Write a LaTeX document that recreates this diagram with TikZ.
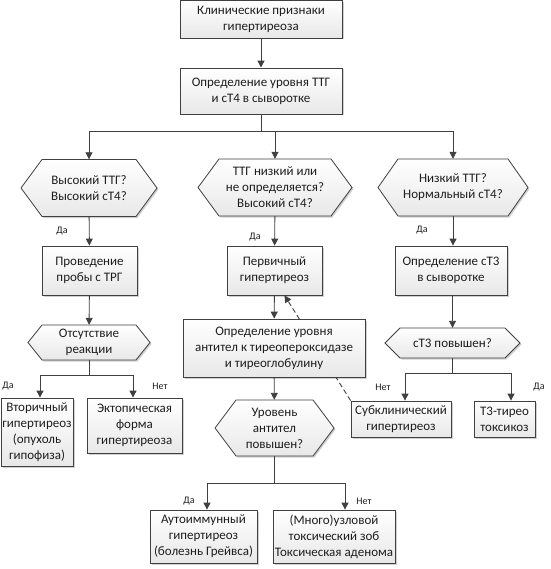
\documentclass[tikz,border=0pt]{standalone}
\usepackage{fontspec}
\setmainfont{Carlito}
\usetikzlibrary{arrows.meta,shadows}
\pgfdeclarelayer{bg}
\pgfdeclarelayer{paper}
\pgfsetlayers{paper,bg,main}
\definecolor{ln}{HTML}{404040}
\definecolor{tx}{HTML}{1E1E1E}
\tikzset{
  shad/.style={drop shadow={shadow xshift=1.5pt, shadow yshift=-1.5pt, fill=black, opacity=0.18}},
  box/.style={draw=ln, line width=0.8pt, top color=white, bottom color=black!9, shad,
    align=center, inner sep=0pt, text=tx, font=\fontsize{13}{16}\selectfont},
  hexfill/.style={draw=ln, line width=0.8pt, top color=white, bottom color=black!9, shad},
  hextxt/.style={inner sep=0pt, align=center, text=tx, font=\fontsize{13}{16}\selectfont},
  lbl/.style={font=\fontsize{10}{12}\selectfont, text=tx, inner sep=0pt},
  con/.style={draw=ln, line width=0.9pt},
  arr/.style={con, -{Triangle[length=7pt,width=7pt]}},
}
\newcommand\hexnode[7]{%
  \path[hexfill] ({#2-#4},{#3}) -- ({#2-#4+#6},{#3-#5}) -- ({#2+#4-#6},{#3-#5}) -- ({#2+#4},{#3})
    -- ({#2+#4-#6},{#3+#5}) -- ({#2-#4+#6},{#3+#5}) -- cycle;
  \node[hextxt, minimum width={2*#4}, minimum height={2*#5}] (#1) at (#2,#3) {#7};}
\begin{document}
\begin{tikzpicture}[x=1pt,y=-1pt]
\begin{pgfonlayer}{paper}
\useasboundingbox[fill=white] (0,0) rectangle (550,569);
\end{pgfonlayer}
% boxes
\node[box, minimum width=162, minimum height=37.5] (b1) at (261,19.25) {Клинические признаки\\гипертиреоза};
\node[box, minimum width=162, minimum height=46] (b2) at (261,91) {Определение уровня ТТГ\\и сТ4 в сыворотке};
\hexnode{hL}{89}{188}{68}{28.5}{21}{Высокий ТТГ?\\Высокий сТ4?}
\hexnode{hM}{275}{187.5}{77}{28.5}{21}{ТТГ низкий или\\не определяется?\\Высокий сТ4?}
\hexnode{hR}{453}{187.5}{75}{28.5}{20}{Низкий ТТГ?\\Нормальный сТ4?}
\node[box, minimum width=95, minimum height=49] (bL2) at (89.5,270.5) {Проведение\\пробы с ТРГ};
\node[box, minimum width=95, minimum height=49] (bM2) at (274.5,270.5) {Первичный\\гипертиреоз};
\node[box, minimum width=112, minimum height=49] (bR2) at (451,270.5) {Определение сТ3\\в сыворотке};
\hexnode{hL3}{89}{342.5}{61}{17.5}{14}{Отсутствие\\реакции}
\node[box, minimum width=182, minimum height=58] (bM3) at (274,348) {Определение уровня\\антител к тиреопероксидазе\\и тиреоглобулину};
\hexnode{hR3}{452.5}{343}{67.5}{15}{15}{сТ3 повышен?}
\node[box, minimum width=72, minimum height=68] (bL4a) at (37,432) {Вторичный\\гипертиреоз\\(опухоль\\гипофиза)};
\node[box, minimum width=95, minimum height=55] (bL4b) at (134.5,425.5) {Эктопическая\\форма\\гипертиреоза};
\node[box, minimum width=100, minimum height=36] (bSub) at (401,419) {Субклинический\\гипертиреоз};
\node[box, minimum width=61, minimum height=36] (bT3) at (504.5,419) {Т3-тирео\\токсикоз};
\hexnode{hM4}{274.5}{428}{59.5}{28}{21}{Уровень\\антител\\повышен?}
\node[box, minimum width=107, minimum height=53] (bM5a) at (203.5,536.5) {Аутоиммунный\\гипертиреоз\\(болезнь Грейвса)};
\node[box, minimum width=122, minimum height=53] (bM5b) at (334,536.5) {(Много)узловой\\токсический зоб\\Токсическая аденома};
% labels
\node[lbl] (lL) at (62,231) {Да};
\node[lbl] (lM) at (255,237) {Да};
\node[lbl] (lR) at (422,230) {Да};
\node[lbl] (lL3y) at (8,386) {Да};
\node[lbl] (lL3n) at (160,386) {Нет};
\node[lbl] (lR3n) at (383,387) {Нет};
\node[lbl] (lR3y) at (539,387) {Да};
\node[lbl] (lM4y) at (189,501) {Да};
\node[lbl] (lM4n) at (364,501) {Нет};
% junctions
\coordinate (jA) at (261,131);
\coordinate (jB) at (89,375);
\coordinate (jC) at (452.5,373);
\coordinate (jD) at (274.5,483);
\begin{pgfonlayer}{bg}
\draw[arr] (b1) -- (b2);
\draw[con] (b2.south) -- (jA);
\draw[arr] (jA) -| (hL.north);
\draw[arr] (jA) -| (hM.north);
\draw[arr] (jA) -| (hR.north);
\draw[arr] (hL) -- (bL2);
\draw[arr] (hM) -- (bM2);
\draw[arr] (hR.south) -- (hR.south |- bR2.north);
\draw[arr] (bL2) -- (hL3);
\draw[arr] (bM2) -- (bM3);
\draw[arr] (bR2.south -| hR3.north) -- (hR3.north);
\draw[con] (hL3.south) -- (jB);
\draw[arr] (jB) -| ([xshift=3]bL4a.north);
\draw[arr] (jB) -| ([xshift=-1.5]bL4b.north);
\draw[con] (hR3.south) -- (jC);
\draw[arr] (jC) -| ([xshift=4]bSub.north);
\draw[arr] (jC) -| ([xshift=6.5]bT3.north);
\draw[arr] (bM3) -- (hM4);
\draw[con] (hM4.south) -- (jD);
\draw[arr] (jD) -| ([xshift=3.5]bM5a.north);
\draw[arr] (jD) -| ([xshift=11]bM5b.north);
\draw[arr, dashed, dash pattern=on 5pt off 3pt] (bSub.north west) -- ([xshift=10]bM2.south);
\end{pgfonlayer}
\end{tikzpicture}
\end{document}
